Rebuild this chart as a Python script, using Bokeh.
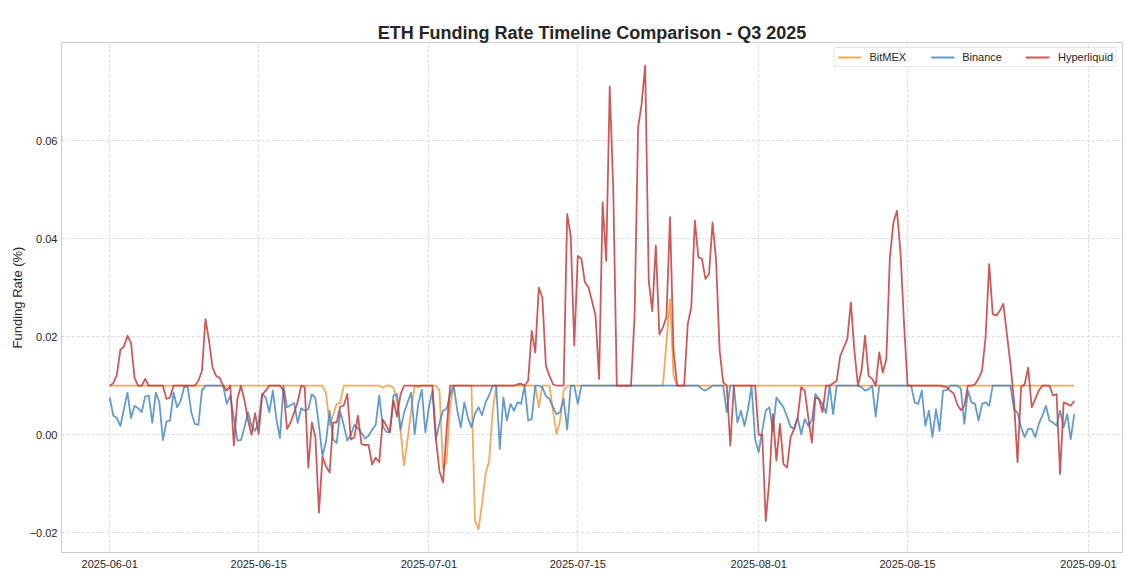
import pandas as pd
from bokeh.plotting import figure
from bokeh.models import Range1d, FixedTicker, DatetimeTickFormatter, CustomJSTickFormatter
from bokeh.embed import file_html
from bokeh.resources import INLINE

title_text = "ETH Funding Rate Timeline Comparison - Q3 2025"
y_label = "Funding Rate (%)"
series_names = ["BitMEX", "Binance", "Hyperliquid"]
start_time = "2025-06-01 00:00"
step = "8h"
x_tick_labels = ["2025-06-01", "2025-06-15", "2025-07-01", "2025-07-15",
                 "2025-08-01", "2025-08-15", "2025-09-01"]
y_ticks = [-0.02, 0.0, 0.02, 0.04, 0.06]

# funding rate (%) every 8 hours, from 2025-06-01 00:00
bitmex = [
    0.01, 0.01, 0.01, 0.01, 0.01, 0.01, 0.01, 0.01, 0.01,
    0.01, 0.01, 0.01, 0.01, 0.01, 0.01, 0.01, 0.01, 0.01,
    0.01, 0.01, 0.01, 0.01, 0.01, 0.01, 0.01, 0.01, 0.01,
    0.01, 0.01, 0.01, 0.01, 0.01, 0.01, 0.01, 0.01, 0.01,
    0.01, 0.01, 0.01, 0.01, 0.01, 0.01, 0.01, 0.01, 0.01,
    0.01, 0.01, 0.01, 0.01, 0.01, 0.01, 0.01, 0.01, 0.01,
    0.01, 0.01, 0.01, 0.01, 0.01, 0.01, 0.01, 0.0085, 0.0020,
    0.0040, 0.0063, 0.0065, 0.01, 0.01, 0.01, 0.01, 0.01, 0.01,
    0.01, 0.01, 0.01, 0.01, 0.01, 0.0096, 0.01, 0.01, 0.0096,
    0.0070, 0.0010, -0.0063, -0.0010, 0.0050, 0.01, 0.0097, 0.01, 0.01,
    0.01, 0.01, 0.01, 0.0090, -0.0070, -0.0053, 0.0060, 0.01, 0.01,
    0.01, 0.01, 0.01, 0.01, -0.0175, -0.0193, -0.0140, -0.0080, -0.0053,
    0.0049, 0.01, 0.01, 0.01, 0.01, 0.01, 0.01, 0.01, 0.01,
    0.01, 0.01, 0.01, 0.01, 0.0056, 0.01, 0.01, 0.01, 0.0049,
    0.0001, 0.0029, 0.0090, 0.01, 0.01, 0.01, 0.01, 0.01, 0.01,
    0.01, 0.01, 0.01, 0.01, 0.01, 0.01, 0.01, 0.01, 0.01,
    0.01, 0.01, 0.01, 0.01, 0.01, 0.01, 0.01, 0.01, 0.01,
    0.01, 0.01, 0.01, 0.01, 0.0189, 0.0277, 0.0120, 0.01, 0.01,
    0.01, 0.01, 0.01, 0.01, 0.01, 0.01, 0.01, 0.01, 0.01,
    0.01, 0.01, 0.01, 0.01, 0.01, 0.01, 0.01, 0.01, 0.01,
    0.01, 0.01, 0.01, 0.01, 0.01, 0.01, 0.01, 0.01, 0.01,
    0.01, 0.01, 0.01, 0.01, 0.01, 0.01, 0.01, 0.01, 0.01,
    0.01, 0.01, 0.01, 0.01, 0.01, 0.01, 0.01, 0.01, 0.01,
    0.01, 0.01, 0.01, 0.01, 0.01, 0.01, 0.01, 0.01, 0.01,
    0.01, 0.01, 0.01, 0.01, 0.01, 0.01, 0.01, 0.01, 0.01,
    0.01, 0.01, 0.01, 0.01, 0.01, 0.01, 0.01, 0.01, 0.01,
    0.01, 0.0097, 0.01, 0.01, 0.01, 0.01, 0.01, 0.01, 0.01,
    0.01, 0.01, 0.01, 0.01, 0.01, 0.01, 0.01, 0.01, 0.01,
    0.01, 0.01, 0.01, 0.01, 0.01, 0.01, 0.01, 0.01, 0.01,
    0.01, 0.01, 0.01, 0.01, 0.01, 0.01, 0.01, 0.01, 0.01,
    0.01, 0.01, 0.01,
]

binance = [
    0.0076, 0.0039, 0.0034, 0.0018, 0.0052, 0.0086, 0.0034, 0.0059, 0.0054,
    0.0046, 0.0078, 0.0080, 0.0024, 0.0086, 0.0066, -0.0011, 0.0027, 0.0029,
    0.0086, 0.0056, 0.0069, 0.0098, 0.0097, 0.0046, 0.0022, 0.0020, 0.0090,
    0.0100, 0.0100, 0.0100, 0.0100, 0.0100, 0.0100, 0.0063, 0.0080, 0.0035,
    -0.0012, -0.0011, 0.0015, 0.0046, 0.0018, 0.0008, 0.0027, 0.0084, 0.0076,
    0.0046, 0.0090, 0.0032, -0.0007, 0.0100, 0.0056, 0.0060, 0.0065, 0.0024,
    0.0054, 0.0049, 0.0052, 0.0083, 0.0075, 0.0018, -0.0043, -0.0014, 0.0049,
    -0.0010, -0.0017, 0.0047, 0.0019, -0.0012, 0.0000, 0.0020, 0.0013, 0.0004,
    -0.0008, -0.0002, 0.0010, 0.0020, 0.0080, 0.0017, 0.0006, 0.0005, 0.0080,
    0.0083, 0.0010, 0.0045, 0.0066, 0.0086, 0.0001, 0.0063, 0.0092, 0.0005,
    0.0056, 0.0090, -0.0010, 0.0025, 0.0049, 0.0053, 0.0082, 0.0100, 0.0050,
    0.0015, 0.0066, 0.0035, 0.0015, 0.0044, 0.0056, 0.0040, 0.0066, 0.0081,
    0.0100, 0.0100, -0.0029, 0.0076, 0.0029, 0.0063, 0.0049, 0.0066, 0.0063,
    0.0100, 0.0029, 0.0032, 0.0100, 0.0100, 0.0097, 0.0079, 0.0073, 0.0056,
    0.0042, 0.0046, 0.0073, 0.0011, 0.0100, 0.0100, 0.0063, 0.0100, 0.0100,
    0.0100, 0.0100, 0.0100, 0.0100, 0.0100, 0.0100, 0.0100, 0.0100, 0.0100,
    0.0100, 0.0100, 0.0100, 0.0100, 0.0100, 0.0100, 0.0100, 0.0100, 0.0100,
    0.0100, 0.0100, 0.0100, 0.0100, 0.0100, 0.0100, 0.0100, 0.0100, 0.0100,
    0.0100, 0.0100, 0.0100, 0.0100, 0.0100, 0.0093, 0.0090, 0.0095, 0.0100,
    0.0100, 0.0100, 0.0100, 0.0046, 0.0100, 0.0100, 0.0025, 0.0049, 0.0018,
    0.0052, 0.0100, -0.0009, -0.0036, 0.0008, 0.0049, 0.0056, 0.0008, 0.0076,
    0.0066, 0.0056, 0.0037, 0.0016, 0.0012, 0.0035, 0.0001, 0.0032, 0.0018,
    0.0029, 0.0083, 0.0073, 0.0063, 0.0044, 0.0100, 0.0042, 0.0100, 0.0100,
    0.0100, 0.0100, 0.0100, 0.0100, 0.0100, 0.0097, 0.0090, 0.0093, 0.0100,
    0.0037, 0.0100, 0.0100, 0.0100, 0.0100, 0.0100, 0.0100, 0.0100, 0.0100,
    0.0100, 0.0100, 0.0066, 0.0063, 0.0090, 0.0018, 0.0049, -0.0005, 0.0052,
    0.0008, 0.0090, 0.0091, 0.0100, 0.0100, 0.0100, 0.0095, 0.0022, 0.0090,
    0.0066, 0.0063, 0.0029, 0.0063, 0.0066, 0.0059, 0.0100, 0.0100, 0.0100,
    0.0100, 0.0100, 0.0100, 0.0052, 0.0045, 0.0015, -0.0005, 0.0012, 0.0012,
    -0.0005, 0.0022, 0.0039, 0.0059, 0.0029, 0.0025, 0.0018, 0.0049, 0.0015,
    0.0042, -0.0009, 0.0042,
]

hyperliquid = [
    0.0100, 0.0105, 0.0122, 0.0173, 0.0180, 0.0202, 0.0188, 0.0116, 0.0100,
    0.0100, 0.0114, 0.0100, 0.0100, 0.0100, 0.0100, 0.0100, 0.0073, 0.0076,
    0.0100, 0.0100, 0.0100, 0.0100, 0.0100, 0.0100, 0.0100, 0.0110, 0.0130,
    0.0236, 0.0192, 0.0137, 0.0120, 0.0116, 0.0100, 0.0090, 0.0100, -0.0022,
    0.0073, 0.0100, 0.0070, 0.0030, 0.0000, 0.0044, 0.0002, 0.0082, 0.0090,
    0.0100, 0.0100, 0.0100, 0.0100, 0.0090, 0.0012, 0.0025, 0.0045, 0.0067,
    0.0100, 0.0097, -0.0067, 0.0025, -0.0005, -0.0159, -0.0045, -0.0065, -0.0077,
    0.0025, 0.0025, 0.0057, 0.0060, 0.0083, -0.0010, -0.0005, 0.0039, -0.0019,
    -0.0021, -0.0021, -0.0061, -0.0047, -0.0056, 0.0031, 0.0018, 0.0005, 0.0070,
    0.0037, 0.0082, 0.0100, 0.0100, 0.0100, 0.0100, 0.0100, 0.0100, 0.0100,
    0.0100, 0.0100, -0.0010, -0.0075, -0.0097, 0.0010, 0.0100, 0.0100, 0.0100,
    0.0100, 0.0100, 0.0100, 0.0100, 0.0100, 0.0100, 0.0100, 0.0100, 0.0100,
    0.0100, 0.0100, 0.0100, 0.0100, 0.0100, 0.0100, 0.0100, 0.0103, 0.0104,
    0.0100, 0.0110, 0.0212, 0.0168, 0.0300, 0.0280, 0.0141, 0.0120, 0.0103,
    0.0100, 0.0100, 0.0100, 0.0450, 0.0406, 0.0182, 0.0365, 0.0359, 0.0311,
    0.0301, 0.0273, 0.0243, 0.0114, 0.0474, 0.0355, 0.0710, 0.0500, 0.0100,
    0.0100, 0.0100, 0.0100, 0.0100, 0.0240, 0.0627, 0.0675, 0.0753, 0.0314,
    0.0252, 0.0386, 0.0205, 0.0219, 0.0240, 0.0444, 0.0171, 0.0100, 0.0100,
    0.0100, 0.0226, 0.0260, 0.0437, 0.0362, 0.0359, 0.0318, 0.0328, 0.0433,
    0.0355, 0.0171, 0.0107, 0.0100, -0.0022, 0.0100, 0.0100, 0.0100, 0.0100,
    0.0100, 0.0100, 0.0100, 0.0000, 0.0000, -0.0176, -0.0094, 0.0042, -0.0053,
    0.0022, -0.0060, -0.0067, -0.0005, 0.0012, 0.0035, 0.0097, 0.0090, 0.0035,
    -0.0016, 0.0076, 0.0073, 0.0046, 0.0100, 0.0100, 0.0105, 0.0110, 0.0161,
    0.0178, 0.0195, 0.0270, 0.0171, 0.0100, 0.0131, 0.0202, 0.0120, 0.0114,
    0.0100, 0.0168, 0.0127, 0.0154, 0.0362, 0.0433, 0.0457, 0.0372, 0.0226,
    0.0100, 0.0100, 0.0100, 0.0100, 0.0100, 0.0100, 0.0100, 0.0100, 0.0100,
    0.0100, 0.0100, 0.0097, 0.0090, 0.0084, 0.0062, 0.0050, 0.0059, 0.0100,
    0.0100, 0.0103, 0.0114, 0.0131, 0.0199, 0.0348, 0.0246, 0.0243, 0.0253,
    0.0267, 0.0205, 0.0144, 0.0069, -0.0056, 0.0097, 0.0103, 0.0137, 0.0056,
    0.0073, 0.0090, 0.0100, 0.0100, 0.0100, 0.0080, 0.0083, -0.0080, 0.0066,
    0.0063, 0.0059, 0.0069,
]

series_values = [bitmex, binance, hyperliquid]
series_colors = ["#F39A3F", "#4A88C4", "#C43C3C"]

assert len(bitmex) == len(binance) == len(hyperliquid)
times = pd.date_range(start_time, periods=len(binance), freq=step)

all_vals = bitmex + binance + hyperliquid
ymin, ymax = min(all_vals), max(all_vals)
ypad = 0.05 * (ymax - ymin)
t0, t1 = times[0], times[-1]
xpad = (t1 - t0) * 0.05

FONT = "Liberation Sans"
TXT = "#262626"

p = figure(frame_width=1061, frame_height=510, x_axis_type="datetime",
           x_range=Range1d((t0 - xpad).to_pydatetime(), (t1 + xpad).to_pydatetime()),
           y_range=Range1d(ymin - ypad, ymax + ypad),
           output_backend="svg", toolbar_location=None,
           min_border_left=61, min_border_right=8,
           min_border_top=42, min_border_bottom=22)

for name, vals, col in zip(series_names, series_values, series_colors):
    p.line(times, vals, line_color=col, line_width=1.8, line_alpha=0.85,
           line_join="round", legend_label=name)

p.title.text = title_text
p.title.align = "center"
p.title.text_font = FONT
p.title.text_font_size = "18px"
p.title.text_font_style = "bold"
p.title.text_color = TXT
p.title.standoff = 0

tick_ms = [pd.Timestamp(s).value // 10**6 for s in x_tick_labels]
p.xaxis.ticker = FixedTicker(ticks=tick_ms)
fmt = "%Y-%m-%d"
p.xaxis.formatter = DatetimeTickFormatter(
    milliseconds=fmt, seconds=fmt, minsec=fmt, minutes=fmt, hourmin=fmt,
    hours=fmt, days=fmt, months=fmt, years=fmt)
p.yaxis.ticker = FixedTicker(ticks=y_ticks)
p.yaxis.formatter = CustomJSTickFormatter(
    code="return (tick < -1e-12 ? '\u2212' : '') + Math.abs(tick).toFixed(2);")

for ax in (p.xaxis[0], p.yaxis[0]):
    ax.axis_line_color = None
    ax.major_tick_line_color = None
    ax.minor_tick_line_color = None
    ax.major_tick_out = 0
    ax.major_tick_in = 0
    ax.minor_tick_out = 0
    ax.major_label_text_font = FONT
    ax.major_label_text_font_size = "11px"
    ax.major_label_text_color = TXT
p.yaxis.major_label_standoff = 4
p.xaxis.major_label_standoff = 7

p.yaxis.axis_label = y_label
p.yaxis.axis_label_text_font = FONT
p.yaxis.axis_label_text_font_size = "13px"
p.yaxis.axis_label_text_font_style = "normal"
p.yaxis.axis_label_text_color = TXT
p.yaxis.axis_label_standoff = 2

p.xgrid.grid_line_color = "#dadada"
p.ygrid.grid_line_color = "#dadada"
p.xgrid.grid_line_dash = "3 2"
p.ygrid.grid_line_dash = "3 2"
p.outline_line_color = "#cccccc"
p.outline_line_width = 1
p.background_fill_color = "white"
p.border_fill_color = "white"

lg = p.legend[0]
lg.orientation = "horizontal"
lg.location = "top_right"
lg.label_text_font = FONT
lg.label_text_font_size = "11px"
lg.label_text_color = TXT
lg.glyph_width = 24
lg.glyph_height = 12
lg.label_height = 12
lg.label_standoff = 8
lg.spacing = 24
lg.padding = 3
lg.margin = 5
lg.border_line_color = "#cccccc"
lg.background_fill_alpha = 0.85

open("out.html", "w").write(file_html(p, INLINE))
